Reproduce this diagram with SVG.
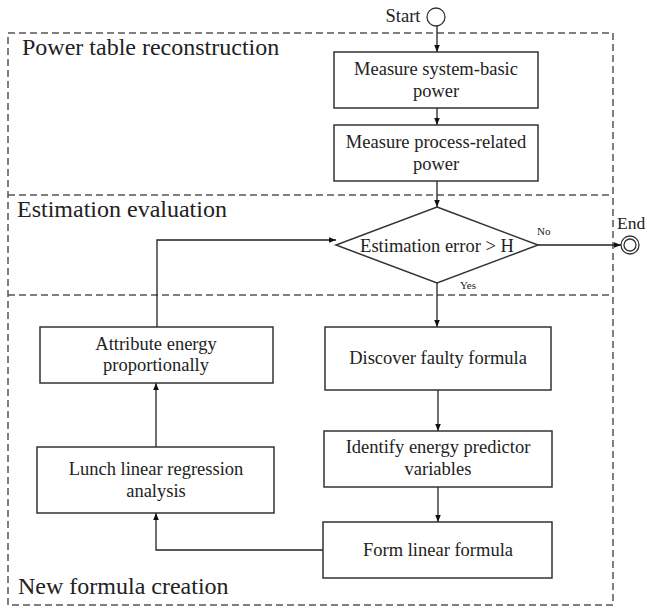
<svg xmlns="http://www.w3.org/2000/svg" width="646" height="609" viewBox="0 0 646 609">
<defs>
<marker id="arr" viewBox="0 0 10 10" refX="10" refY="5" markerWidth="7" markerHeight="7" markerUnits="userSpaceOnUse" orient="auto">
<path d="M0,1 L10,5 L0,9 z" fill="#111"/>
</marker>
<style>
.box{fill:#fff;stroke:#333;stroke-width:1.5}
.t{font-family:"Liberation Serif","Times New Roman",serif;font-size:18.5px;fill:#222;text-anchor:middle}
.h{font-family:"Liberation Serif","Times New Roman",serif;font-size:24px;fill:#222}
.s{font-family:"Liberation Serif","Times New Roman",serif;font-size:11px;fill:#222}
.dash{fill:none;stroke:#555;stroke-width:1.5;stroke-dasharray:7,4}
.c{fill:none;stroke:#222;stroke-width:1.3}
</style>
</defs>
<rect width="646" height="609" fill="#fff"/>
<g id="sections">
<rect class="dash" x="8" y="33" width="605" height="572"/>
<line class="dash" x1="8" y1="195" x2="613" y2="195"/>
<line class="dash" x1="8" y1="295" x2="613" y2="295"/>
<text class="h" x="22" y="55">Power table reconstruction</text>
<text class="h" x="17" y="217">Estimation evaluation</text>
<text class="h" x="18" y="594">New formula creation</text>
</g>
<g id="connectors">
<line class="c" x1="437" y1="26" x2="437" y2="52" marker-end="url(#arr)"/>
<line class="c" x1="437" y1="108" x2="437" y2="125" marker-end="url(#arr)"/>
<line class="c" x1="437" y1="181" x2="437" y2="207" marker-end="url(#arr)"/>
<line class="c" x1="538" y1="245" x2="621" y2="245" marker-end="url(#arr)"/>
<line class="c" x1="437" y1="283" x2="437" y2="327" marker-end="url(#arr)"/>
<line class="c" x1="438" y1="390" x2="438" y2="431" marker-end="url(#arr)"/>
<line class="c" x1="438" y1="487" x2="438" y2="522" marker-end="url(#arr)"/>
<polyline class="c" points="323,550 156,550 156,513" marker-end="url(#arr)"/>
<line class="c" x1="156" y1="447" x2="156" y2="383" marker-end="url(#arr)"/>
<polyline class="c" points="157,327 157,240 336,240" marker-end="url(#arr)"/>
<text class="s" x="537" y="235">No</text>
<text class="s" x="460" y="289">Yes</text>
</g>
<g id="start">
<circle cx="436" cy="17" r="9" fill="#fff" stroke="#333" stroke-width="1.3"/>
<text class="t" x="403" y="22">Start</text>
</g>
<g id="end">
<circle cx="630" cy="245" r="9" fill="#fff" stroke="#333" stroke-width="1.3"/>
<circle cx="630" cy="245" r="6" fill="#fff" stroke="#333" stroke-width="1.3"/>
<text class="t" x="617" y="229" style="text-anchor:start;font-size:17.5px">End</text>
</g>
<g id="n1">
<rect class="box" x="334" y="52" width="204" height="56"/>
<text class="t" x="436" y="75">Measure system-basic</text>
<text class="t" x="436" y="97">power</text>
</g>
<g id="n2">
<rect class="box" x="334" y="125" width="204" height="56"/>
<text class="t" x="436" y="148">Measure process-related</text>
<text class="t" x="436" y="170">power</text>
</g>
<g id="decision">
<polygon class="box" points="437,207 538,245 437,283 336,245"/>
<text class="t" x="437" y="252">Estimation error &gt; H</text>
</g>
<g id="n3">
<rect class="box" x="325" y="327" width="226" height="63"/>
<text class="t" x="438" y="364">Discover faulty formula</text>
</g>
<g id="n4">
<rect class="box" x="324" y="431" width="228" height="56"/>
<text class="t" x="438" y="453">Identify energy predictor</text>
<text class="t" x="438" y="475">variables</text>
</g>
<g id="n5">
<rect class="box" x="323" y="522" width="229" height="56"/>
<text class="t" x="438" y="556">Form linear formula</text>
</g>
<g id="n6">
<rect class="box" x="37" y="447" width="237" height="66"/>
<text class="t" x="156" y="475">Lunch linear regression</text>
<text class="t" x="156" y="497">analysis</text>
</g>
<g id="n7">
<rect class="box" x="40" y="327" width="233" height="56"/>
<text class="t" x="156" y="350">Attribute energy</text>
<text class="t" x="156" y="371">proportionally</text>
</g>
</svg>
